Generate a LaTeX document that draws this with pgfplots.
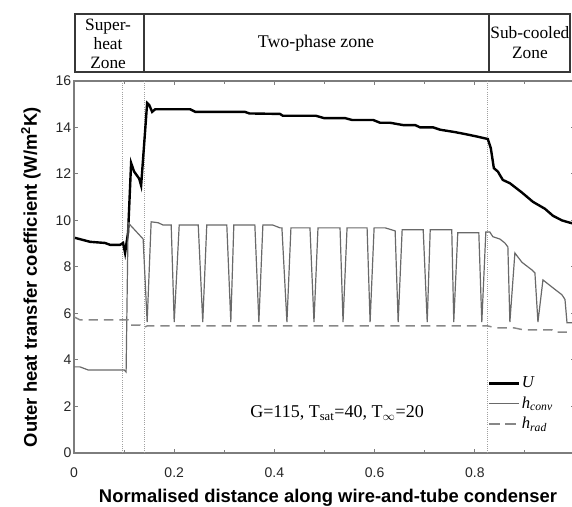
\documentclass[border=0pt]{standalone}
\usepackage{fontspec}
\setmainfont{Liberation Serif}
\setsansfont{Liberation Sans}
\usepackage{pgfplots}
\pgfplotsset{compat=1.18}

\definecolor{axgray}{RGB}{125,125,125}
\definecolor{convgray}{RGB}{105,105,105}
\definecolor{radgray}{RGB}{135,135,135}
\definecolor{boxgray}{RGB}{55,55,55}
\definecolor{dotgray}{RGB}{160,160,160}

\pgfplotstableread{
x y
0.002 9.25
0.032 9.08
0.062 9.03
0.072 8.95
0.092 8.95
0.098 9.03
0.102 8.60
0.108 9.50
0.114 12.47
0.120 12.10
0.130 11.80
0.134 11.50
0.146 15.05
0.150 14.97
0.156 14.67
0.162 14.78
0.232 14.78
0.242 14.67
0.341 14.67
0.350 14.60
0.411 14.58
0.417 14.50
0.483 14.50
0.499 14.40
0.541 14.40
0.555 14.32
0.597 14.32
0.611 14.20
0.631 14.20
0.657 14.10
0.681 14.10
0.691 14.00
0.717 14.00
0.731 13.90
0.760 13.80
0.784 13.70
0.806 13.60
0.826 13.50
0.832 13.10
0.838 12.25
0.846 12.10
0.856 11.74
0.870 11.60
0.894 11.20
0.916 10.80
0.940 10.50
0.956 10.20
0.974 10.00
0.990 9.90
1.000 9.85
}\Udata

\pgfplotstableread{
x y
0.000 3.70
0.012 3.70
0.028 3.57
0.100 3.57
0.104 3.48
0.108 9.90
0.138 9.20
0.146 5.63
0.154 9.94
0.168 9.90
0.178 9.80
0.194 9.80
0.200 5.63
0.210 9.80
0.248 9.80
0.257 5.63
0.265 9.80
0.305 9.80
0.313 5.63
0.319 9.80
0.361 9.80
0.369 5.63
0.377 9.80
0.397 9.80
0.411 9.68
0.415 9.68
0.425 5.63
0.433 9.68
0.471 9.68
0.479 5.63
0.487 9.68
0.531 9.68
0.537 5.63
0.545 9.68
0.585 9.68
0.591 5.63
0.599 9.68
0.621 9.68
0.641 9.55
0.647 5.63
0.655 9.60
0.697 9.60
0.705 5.63
0.711 9.60
0.754 9.60
0.758 5.63
0.766 9.47
0.808 9.47
0.814 5.63
0.822 9.50
0.830 9.50
0.836 9.30
0.850 9.20
0.860 9.03
0.866 8.86
0.870 5.63
0.880 8.60
0.894 8.20
0.914 7.87
0.920 7.74
0.926 5.63
0.936 7.44
0.956 7.10
0.974 6.80
0.980 6.60
0.984 5.60
1.000 5.60
}\Hconv

\pgfplotstableread{
x y
0.000 5.85
0.012 5.72
0.108 5.72
0.112 5.50
0.132 5.50
0.138 5.38
0.146 5.46
0.826 5.46
0.842 5.38
0.878 5.38
0.898 5.29
0.954 5.29
0.958 5.20
1.000 5.20
}\Hrad

\begin{document}
\begin{tikzpicture}
\begin{axis}[
  scale only axis, width=375.75pt, height=279pt,
  xmin=0, xmax=1, ymin=0, ymax=16,
  clip=false,
  xtick={0,0.2,0.4,0.6,0.8,1},
  xticklabels={0,0.2,0.4,0.6,0.8,1},
  minor xtick={0.1,0.3,0.5,0.7,0.9},
  ytick={0,2,4,6,8,10,12,14,16},
  yticklabels={0,2,4,6,8,10,12,14,16},
  tick align=inside,
  major tick length=3pt, minor tick length=2pt,
  axis line style={axgray, line width=1.1pt},
  every tick/.style={axgray, line width=0.8pt},
  ticklabel style={font=\sffamily\fontsize{10.5}{12}\selectfont, text=black!85},
  xticklabel style={yshift=-7.5pt},
  yticklabel style={xshift=1.5pt},
  xlabel={\bfseries Normalised distance along wire-and-tube condenser},
  xlabel style={font=\sffamily\fontsize{13.8}{15}\selectfont, at={(axis description cs:0.507,-0.12)}, anchor=center},
  ylabel={\bfseries Outer heat transfer coefficient (W/m\textsuperscript{2}K)},
  ylabel style={font=\sffamily\fontsize{13.8}{15}\selectfont, at={(axis description cs:-0.086,0.473)}, anchor=center, rotate=0},
  legend style={at={(axis cs:0.826,2.11)}, anchor=west, draw=none, fill=none,
    font=\fontsize{12.5}{14}\selectfont, inner sep=0pt, row sep=3.2pt,
    nodes={inner sep=1pt}},
  legend cell align=left,
]
% zone dividers
\draw[dotgray, densely dotted, line width=0.6pt] (axis cs:0.096,0) -- (axis cs:0.096,16);
\draw[dotgray, densely dotted, line width=0.6pt] (axis cs:0.140,0) -- (axis cs:0.140,16);
\draw[dotgray, densely dotted, line width=0.6pt] (axis cs:0.826,0) -- (axis cs:0.826,16);

\addplot[black, line width=1.8pt, legend image code/.code={\draw[black, line width=1.8pt] (0pt,0pt) -- (22.5pt,0pt);}] table[x=x,y=y] {\Udata};
\addlegendentry{\textit{U}}
\addplot[convgray, line width=0.9pt, legend image code/.code={\draw[convgray, line width=0.9pt] (0pt,0pt) -- (22.5pt,0pt);}] table[x=x,y=y] {\Hconv};
\addlegendentry{\textit{h}\textsubscript{\textit{conv}}}
\addplot[radgray, line width=1.1pt, dash pattern=on 7pt off 4.5pt, legend image code/.code={\draw[radgray, line width=1.1pt, dash pattern=on 8pt off 4pt] (0pt,0pt) -- (22.5pt,0pt);}] table[x=x,y=y] {\Hrad};
\addlegendentry{\textit{h}\textsubscript{\textit{rad}}}

% annotation
\node[font=\fontsize{13.5}{15}\selectfont] at (axis cs:0.525,1.72) {G=115, T\textsubscript{sat}=40, T\textsubscript{$\infty$}=20};

% zone box
\draw[boxgray, line width=1.5pt] (axis cs:0.002,16.39) rectangle (axis cs:0.990,18.88);
\draw[boxgray, line width=1.5pt] (axis cs:0.140,16.39) -- (axis cs:0.140,18.88);
\draw[boxgray, line width=1.5pt] (axis cs:0.828,16.39) -- (axis cs:0.828,18.88);
\node[align=center, font=\fontsize{13}{14.5}\selectfont] at (axis cs:0.068,17.59) {Super-\\heat\\Zone};
\node[font=\fontsize{13.4}{14.5}\selectfont] at (axis cs:0.483,17.63) {Two-phase zone};
\node[align=center, font=\fontsize{13}{15}\selectfont] at (axis cs:0.910,17.63) {Sub-cooled\\Zone};

\coordinate (BL) at (axis cs:-0.1477,-2.32);
\coordinate (TR) at (axis cs:0.994,19.48);
\end{axis}
\pgfresetboundingbox
\useasboundingbox (BL) rectangle (TR);
\end{tikzpicture}
\end{document}
